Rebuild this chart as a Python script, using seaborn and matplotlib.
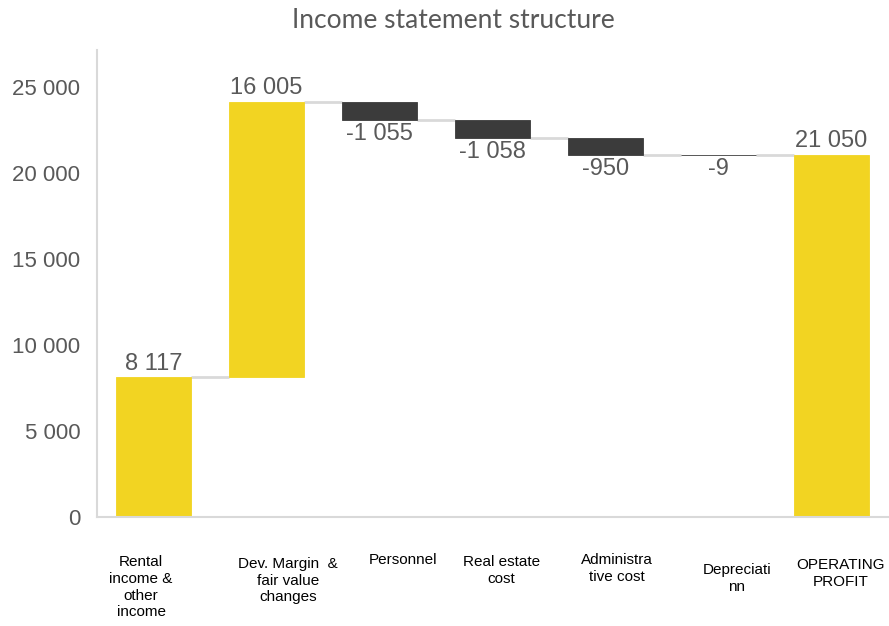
import matplotlib
matplotlib.use("Agg")
import matplotlib.pyplot as plt
import seaborn as sns
import numpy as np
import pandas as pd

categories = ["Rental\nincome &\nother\nincome", "Dev. Margin  &\nfair value\nchanges",
              "Personnel", "Real estate\ncost", "Administra\ntive cost",
              "Depreciati\nnn", "OPERATING\nPROFIT"]
values = [8117, 16005, -1055, -1058, -950, -9, 21050]
is_total = [False, False, False, False, False, False, True]
value_labels = ["8 117", "16 005", "-1 055", "-1 058", "-950", "-9", "21 050"]
yticks = [0, 5000, 10000, 15000, 20000, 25000]
ytick_labels = ["0", "5 000", "10 000", "15 000", "20 000", "25 000"]
title = "Income statement structure"

# waterfall geometry from values
starts, ends = [], []
run = 0
for v, t in zip(values, is_total):
    if t:
        starts.append(0); ends.append(v); run = v
    else:
        starts.append(run); run += v; ends.append(run)
tops = [max(s, e) for s, e in zip(starts, ends)]
bottoms = [min(s, e) for s, e in zip(starts, ends)]

YELLOW = "#F2D422"
DARK = "#3B3B3B"
colors = [YELLOW if (v > 0 or t) else DARK for v, t in zip(values, is_total)]

df = pd.DataFrame({"cat": categories, "top": tops, "bottom": bottoms})

sns.set_theme(style="white")
plt.rcParams["font.family"] = ["Liberation Sans", "DejaVu Sans"]

fig = plt.figure(figsize=(8.89, 6.26), dpi=100)
ax = fig.add_axes([97/889, (626-517)/626, 1 - 97/889 - 0.001, (517-50)/626])

W = 0.66
sns.barplot(data=df, x="cat", y="top", hue="cat", palette=colors, width=W,
            legend=False, ax=ax, saturation=1, linewidth=0.6)
# float each bar between its bottom and top
for p, c, b, t in zip(ax.patches, colors, bottoms, tops):
    p.set_y(b)
    p.set_height(t - b)
    p.set_edgecolor(c)
    p.set_zorder(2)

# connectors
for i in range(len(values) - 1):
    ax.plot([i + W/2, i + 1 - W/2], [ends[i], ends[i]], color="#D9D9D9", lw=2,
            solid_capstyle="butt", zorder=1)

ax.set_xlim(-0.5, len(values) - 0.5)
ax.set_ylim(0, 25000 * (517 - 50) / (517 - 87))

# data labels
for i, (v, lab) in enumerate(zip(values, value_labels)):
    if v > 0:
        ax.annotate(lab, (i, tops[i]), xytext=(0, 2), textcoords="offset points",
                    ha="center", va="bottom", fontsize=17, color="#595959")
    else:
        ax.annotate(lab, (i, bottoms[i]), xytext=(0, -2), textcoords="offset points",
                    ha="center", va="top", fontsize=17, color="#595959")

ax.set_yticks(yticks)
ax.set_yticklabels(ytick_labels, fontsize=16, color="#595959")
ax.tick_params(axis="y", length=0, pad=12)

# category labels
ax.set_xticks(range(len(categories)))
ax.set_xticklabels([""] * len(categories))
ax.tick_params(axis="x", length=0)
label_dx = [-0.11, 0.19, 0.21, 0.08, 0.10, 0.16, 0.08]
label_dy = [38, 40, 36, 38, 36, 46, 41]
for i, lab in enumerate(categories):
    ax.annotate(lab, (i + label_dx[i], 0), xytext=(0, -label_dy[i] * 0.72),
                textcoords="offset points", ha="center", va="top",
                fontsize=11, color="#000000", linespacing=1.25,
                annotation_clip=False)

ax.set_xlabel("")
ax.set_ylabel("")
for s in ["top", "right"]:
    ax.spines[s].set_visible(False)
ax.spines["left"].set_color("#D9D9D9")
ax.spines["left"].set_linewidth(1.5)
ax.spines["bottom"].set_color("#D9D9D9")
ax.spines["bottom"].set_linewidth(1.5)

fig.text(453/889, 1 - 20/626, title, ha="center", va="center", fontsize=19,
         color="#595959", family=["Lato", "DejaVu Sans"])

fig.savefig("out.png", dpi=100)
